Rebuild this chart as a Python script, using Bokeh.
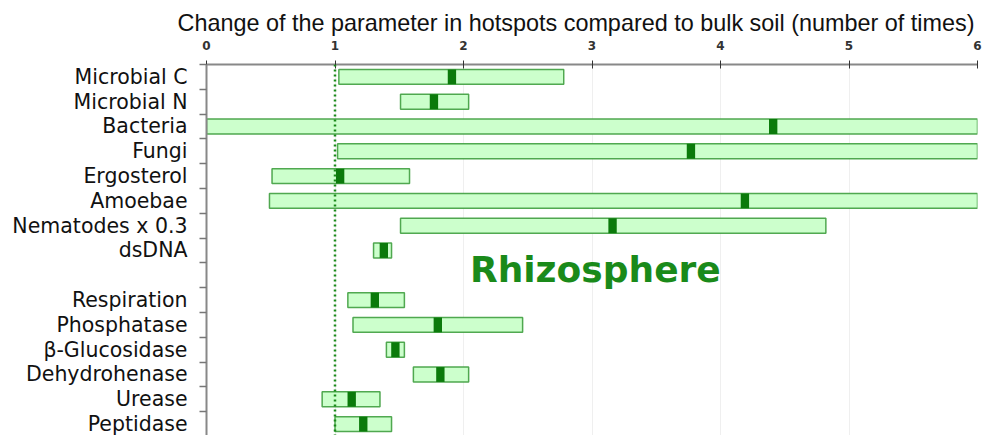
from bokeh.plotting import figure
from bokeh.models import Range1d, FixedTicker, Span, Label, ColumnDataSource
from bokeh.embed import file_html
from bokeh.resources import INLINE

# ---- data ----
group1 = ["Microbial C", "Microbial N", "Bacteria", "Fungi", "Ergosterol",
          "Amoebae", "Nematodes x 0.3", "dsDNA"]
group2 = ["Respiration", "Phosphatase", "β-Glucosidase", "Dehydrohenase",
          "Urease", "Peptidase"]
low1 = [1.03, 1.51, 0.00, 1.02, 0.51, 0.49, 1.51, 1.30]
high1 = [2.78, 2.04, 7.00, 7.00, 1.58, 7.00, 4.82, 1.44]
med1 = [1.91, 1.77, 4.41, 3.77, 1.04, 4.19, 3.16, 1.38]
low2 = [1.10, 1.14, 1.40, 1.61, 0.90, 1.00]
high2 = [1.54, 2.46, 1.54, 2.04, 1.35, 1.44]
med2 = [1.31, 1.80, 1.47, 1.82, 1.13, 1.22]
x_ticks = [0, 1, 2, 3, 4, 5, 6]
title_text = "Change of the parameter in hotspots compared to bulk soil (number of times)"
zone_text = "Rhizosphere"

# ---- layout of rows (one blank row between groups) ----
names = group1 + group2
rows = list(range(len(group1))) + [len(group1) + 1 + i for i in range(len(group2))]
low = low1 + low2
high = high1 + high2
med = med1 + med2
n_rows = len(group1) + 1 + len(group2)
mw = 0.065
src = ColumnDataSource(dict(
    y=rows, left=low, right=high,
    mleft=[m - mw / 2 for m in med], mright=[m + mw / 2 for m in med],
))

p = figure(width=983, height=435, x_range=Range1d(0, 6),
           y_range=Range1d(14.46, -0.5),
           x_axis_location="above", toolbar_location=None,
           output_backend="svg",
           min_border_left=206, min_border_right=6,
           min_border_top=64, min_border_bottom=0)
p.outline_line_color = None
p.background_fill_color = "white"

p.title.text = title_text
p.title.align = "left"
p.title.offset = -29
p.title.text_font = "Liberation Sans"
p.title.text_font_size = "23.4px"
p.title.text_font_style = "normal"
p.title.text_color = "#111111"
p.title.standoff = 4

# x axis (top)
xt = FixedTicker(ticks=x_ticks)
xa = p.xaxis[0]
xa.ticker = xt
xa.major_label_text_font = "DejaVu Sans"
xa.major_label_text_font_size = "12px"
xa.major_label_text_font_style = "bold"
xa.major_label_text_color = "#333333"
xa.major_label_standoff = 11
xa.major_tick_in = 4
xa.major_tick_out = 4
xa.major_tick_line_color = "#333333"
xa.minor_tick_line_color = None
xa.axis_line_color = "#888888"
xa.axis_line_width = 2

# y axis (left)
ya = p.yaxis[0]
ya.ticker = FixedTicker(ticks=rows, minor_ticks=[i - 0.5 for i in range(n_rows + 1)])
ya.major_label_overrides = {r: nm for r, nm in zip(rows, names)}
ya.major_label_text_font = "DejaVu Sans"
ya.major_label_text_font_size = "20.5px"
ya.major_label_text_color = "#111111"
ya.major_label_standoff = 12
ya.major_tick_in = 0
ya.major_tick_out = 0
ya.major_tick_line_color = None
ya.minor_tick_in = 0
ya.minor_tick_out = 7
ya.minor_tick_line_color = "#777777"
ya.minor_tick_line_width = 1.5
ya.axis_line_color = "#888888"
ya.axis_line_width = 2

p.xgrid.ticker = xt
p.xgrid.grid_line_color = "#efefef"
p.ygrid.grid_line_color = None

p.hbar(y="y", left="left", right="right", height=0.6, source=src,
       fill_color="#ccffcc", line_color="#3f9f3f", line_width=1.5, line_alpha=0.9)
p.hbar(y="y", left="mleft", right="mright", height=0.6, source=src,
       fill_color="#0b7a0b", line_color=None)

p.add_layout(Span(location=1, dimension="height", line_color="#1a8a1a",
                  line_dash="2 3", line_width=2.5))

p.add_layout(Label(x=2.05, y=7.75, text=zone_text, text_font="DejaVu Sans",
                   text_font_size="36px", text_font_style="bold",
                   text_color="#1a8a1a", text_baseline="alphabetic"))

open("out.html", "w").write(file_html(p, INLINE))
